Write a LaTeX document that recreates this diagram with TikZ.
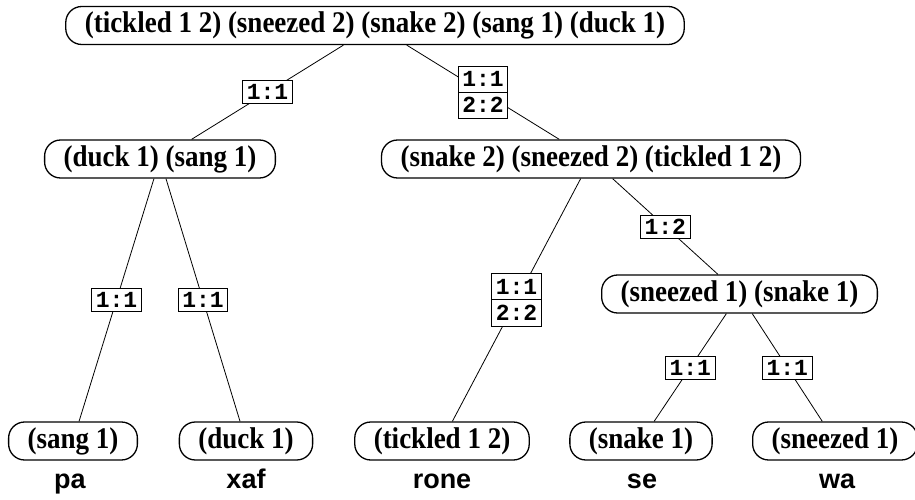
\documentclass[tikz,border=0pt]{standalone}
\usepackage{fontspec}
\setmainfont[FakeStretch=0.9]{Liberation Serif}
\newfontfamily\labfont{Liberation Mono}
\newfontfamily\wordfont{Liberation Sans}
\usetikzlibrary{shapes.multipart}
\begin{document}
\begin{tikzpicture}[x=1pt,y=-1pt,
  setnode/.style={draw, line width=1.3pt, rounded corners=16pt,
    minimum height=38pt, inner xsep=19pt, inner ysep=0pt,
    font=\fontsize{30}{32}\selectfont\bfseries},
  edge/.style={line width=0.8pt},
  lab/.style={draw, fill=white, line width=0.9pt, inner xsep=4pt, inner ysep=2pt,
    minimum height=23pt, font=\fontsize{23}{24}\selectfont\labfont\bfseries},
  lab2/.style={draw, fill=white, line width=0.9pt, rectangle split,
    rectangle split parts=2, inner xsep=4pt, inner ysep=5pt,
    font=\fontsize{23}{24}\selectfont\labfont\bfseries},
  word/.style={anchor=base, font=\fontsize{27}{30}\selectfont\wordfont\bfseries}]
\useasboundingbox (0,0) rectangle (915,500);

% tree nodes
\node[setnode] (root) at (375,25.5) {(tickled 1 2) (sneezed 2) (snake 2) (sang 1) (duck 1)};
\node[setnode] (l1) at (160,159) {(duck 1) (sang 1)};
\node[setnode] (r1) at (591,159) {(snake 2) (sneezed 2) (tickled 1 2)};
\node[setnode] (r2) at (739.5,294) {(sneezed 1) (snake 1)};
\node[setnode] (sang) at (73,441) {(sang 1)};
\node[setnode] (duck) at (246,441) {(duck 1)};
\node[setnode] (tickled) at (442,441) {(tickled 1 2)};
\node[setnode] (snake) at (641,441) {(snake 1)};
\node[setnode] (sneezed) at (835,441) {(sneezed 1)};

% words under the leaves
\node[word] (wpa) at (70,488) {pa};
\node[word] (wxaf) at (246,488) {xaf};
\node[word] (wrone) at (442,488) {rone};
\node[word] (wse) at (642,488) {se};
\node[word] (wwa) at (837,488) {wa};

% edges with their mappings
\draw[edge] (root) -- node[lab] (e1) {1:1} (l1);
\draw[edge] (root) -- node[lab2] (e2) {1:1\nodepart{two}2:2} (r1);
\draw[edge] (l1) -- node[lab] (e3) {1:1} (sang);
\draw[edge] (l1) -- node[lab] (e4) {1:1} (duck);
\draw[edge] (r1) -- node[lab2] (e5) {1:1\nodepart{two}2:2} (tickled);
\draw[edge] (r1) -- node[lab] (e6) {1:2} (r2);
\draw[edge] (r2) -- node[lab] (e7) {1:1} (snake);
\draw[edge] (r2) -- node[lab] (e8) {1:1} (sneezed);
\end{tikzpicture}
\end{document}
